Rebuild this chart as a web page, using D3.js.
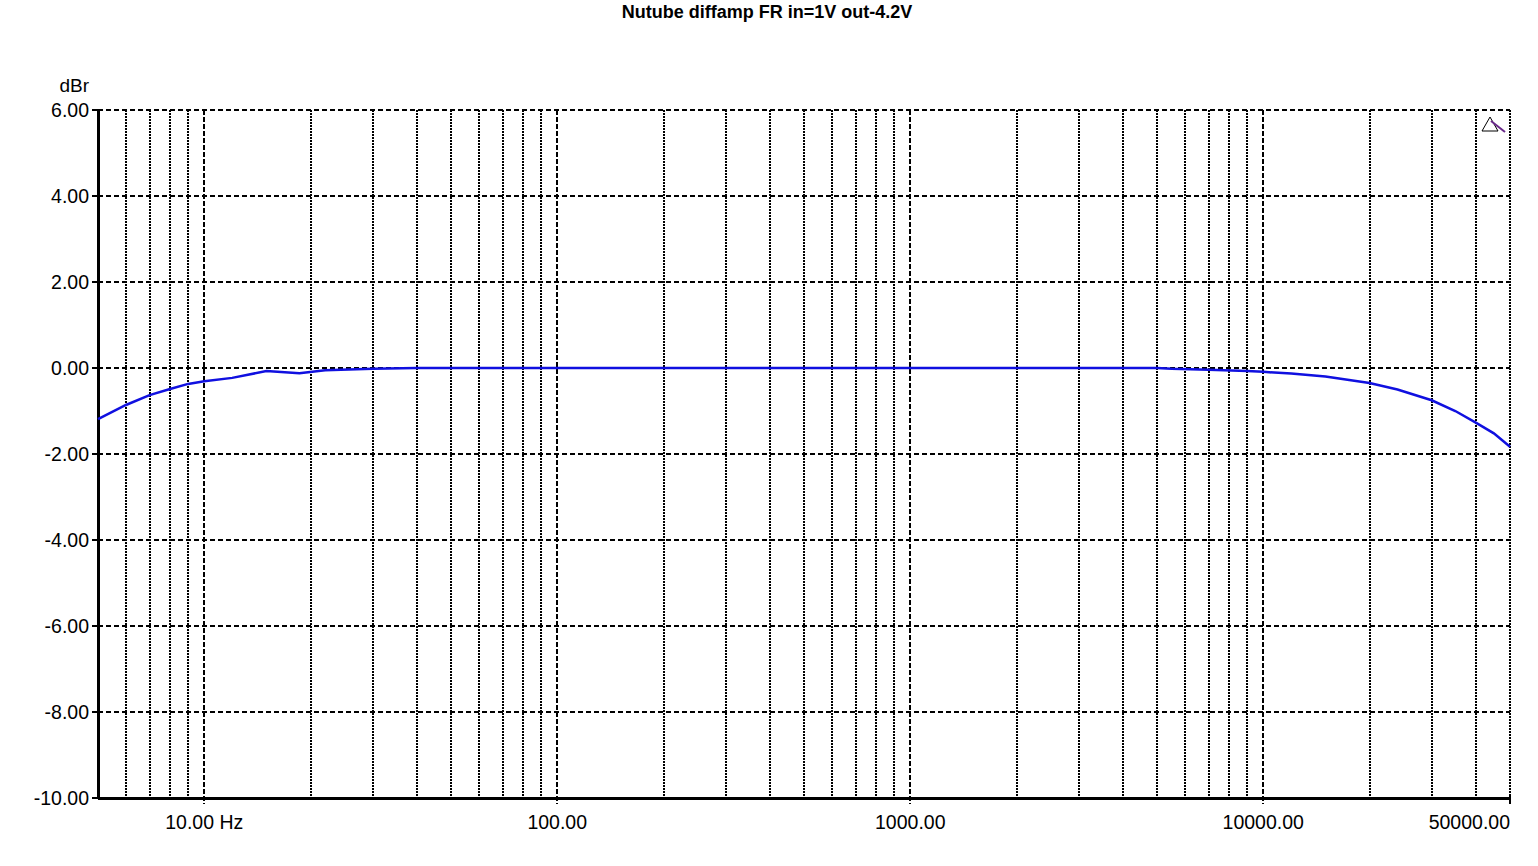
<!DOCTYPE html>
<html><head><meta charset="utf-8">
<script src="https://cdn.jsdelivr.net/npm/d3@7"></script>
<style>body{margin:0;background:#fff;} svg{display:block;} text{font-family:"Liberation Sans",Arial,sans-serif;}</style>
</head><body>
<svg id="c" width="1538" height="866"></svg>
<script>
const title = "Nutube diffamp FR in=1V out-4.2V";
const yUnit = "dBr";
const freqs = [5,6,7,8,9,10,12,15,18.6,22,30,40,100,1000,5000,5500,7000,9000,10000,12000,15000,20000,24000,30000,35000,40000,45000,50000];
const dBr = [-1.19,-0.86,-0.63,-0.49,-0.37,-0.31,-0.23,-0.07,-0.12,-0.05,-0.02,0,0,0,0,-0.02,-0.04,-0.07,-0.09,-0.13,-0.2,-0.35,-0.5,-0.75,-1.0,-1.27,-1.52,-1.83];
const yTicks = [6,4,2,0,-2,-4,-6,-8,-10];
const xMajor = [10,100,1000,10000];
const xLabels = [[10,"10.00 Hz"],[100,"100.00"],[1000,"1000.00"],[10000,"10000.00"],[50000,"50000.00"]];

const svg = d3.select("#c");
const L=98,R=1510,T=110,B=798;
const x = d3.scaleLog().domain([5,50000]).range([L,R]);
const y = d3.scaleLinear().domain([-10,6]).range([B,T]);
const rx = d => Math.round(x(d));

const grid = svg.append("g").attr("shape-rendering","crispEdges");
// minor grid
const minor=[];
for(let d=1; d<=10000; d*=10){ for(let m=2;m<=9;m++){ const f=m*d; if(f>5&&f<50000&&!xMajor.includes(f)) minor.push(f);} }
minor.push(50000);
grid.append("g").selectAll("line").data(minor).join("line")
  .attr("x1",rx).attr("x2",rx).attr("y1",T).attr("y2",B)
  .attr("stroke","#000").attr("stroke-width",2).attr("stroke-dasharray","2,1");
// major vertical grid
grid.append("g").selectAll("line").data(xMajor).join("line")
  .attr("x1",rx).attr("x2",rx).attr("y1",T).attr("y2",B+6)
  .attr("stroke","#000").attr("stroke-width",2).attr("stroke-dasharray","5,2");
// horizontal grid
grid.append("g").selectAll("line").data(yTicks.filter(v=>v>-10)).join("line")
  .attr("x1",L).attr("x2",R).attr("y1",d=>y(d)).attr("y2",d=>y(d))
  .attr("stroke","#000").attr("stroke-width",2).attr("stroke-dasharray","5,3");

// axes
grid.append("line").attr("x1",L).attr("x2",L).attr("y1",T).attr("y2",B).attr("stroke","#000").attr("stroke-width",3);
grid.append("line").attr("x1",L).attr("x2",R+1).attr("y1",B).attr("y2",B).attr("stroke","#000").attr("stroke-width",3);
grid.append("line").attr("x1",R).attr("x2",R).attr("y1",B-4).attr("y2",B+6).attr("stroke","#000").attr("stroke-width",2);
grid.append("g").selectAll("line").data(yTicks).join("line")
  .attr("x1",L-6).attr("x2",L).attr("y1",d=>y(d)).attr("y2",d=>y(d)).attr("stroke","#000").attr("stroke-width",2);

// y labels
svg.append("g").selectAll("text").data(yTicks).join("text")
  .attr("x",89).attr("y",d=>y(d)+7).attr("text-anchor","end").attr("font-size",19.5).text(d=>d.toFixed(2));
svg.append("text").attr("x",89).attr("y",92).attr("text-anchor","end").attr("font-size",19).text(yUnit);
// x labels
svg.append("g").selectAll("text").data(xLabels).join("text")
  .attr("x",d=>d[0]===50000?R:x(d[0])).attr("y",829)
  .attr("text-anchor",d=>d[0]===50000?"end":"middle").attr("font-size",19.5).text(d=>d[1]);
// title
svg.append("text").attr("x",767).attr("y",18).attr("text-anchor","middle").attr("font-size",18).attr("font-weight","bold").text(title);

// curve
const pts = freqs.map((f,i)=>[f,dBr[i]]);
svg.append("path").datum(pts).attr("fill","none").attr("stroke","#1010e0").attr("stroke-width",2.5)
  .attr("d",d3.line().x(d=>x(d[0])).y(d=>y(d[1])));

// marker
svg.append("path").attr("d","M1490,117 L1482,131 L1498,131 Z").attr("fill","#fff").attr("stroke","#000").attr("stroke-width",1);
svg.append("line").attr("x1",1491).attr("y1",121).attr("x2",1505).attr("y2",132).attr("stroke","#6a2a8a").attr("stroke-width",2);
</script>
</body></html>
